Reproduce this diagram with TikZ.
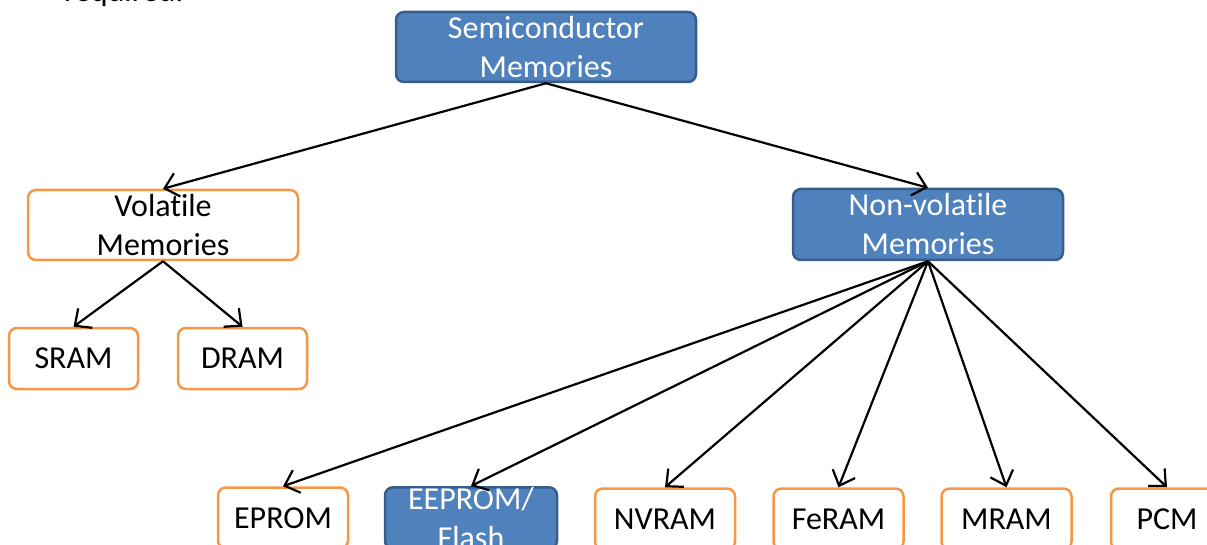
\documentclass[tikz,border=0pt]{standalone}
\usepackage{fontspec}
\setmainfont{Carlito}[Ligatures=NoCommon]
\usetikzlibrary{arrows.meta}

\definecolor{bluefill}{HTML}{4F81BD}
\definecolor{blueedge}{HTML}{385D8A}
\definecolor{orangeedge}{HTML}{F79646}

\tikzset{
  memtext/.style={font=\fontsize{32}{39}\selectfont, align=center, inner sep=0pt},
  bluebox/.style={memtext, draw=blueedge, fill=bluefill, text=white, line width=2.5pt, rounded corners=8pt},
  orangebox/.style={memtext, draw=orangeedge, fill=white, line width=2.5pt, rounded corners=8pt},
  link/.style={-{Straight Barb[length=13pt,width=24pt,line width=2.2pt]}, line width=2.2pt}
}

\begin{document}
\begin{tikzpicture}[x=1pt, y=-1pt]
\useasboundingbox (0,0) rectangle (1207,545);

\node[memtext, anchor=base west] (prev) at (64,2) {required.};

% top level
\node[bluebox, minimum width=300, minimum height=70] (semi) at (546,47) {Semiconductor\\Memories};

% second level
\node[orangebox, minimum width=270, minimum height=70] (vol) at (163,225) {Volatile\\Memories};
\node[bluebox, minimum width=270, minimum height=71] (nonvol) at (928,224.5) {Non-volatile\\Memories};

% volatile kinds
\node[orangebox, minimum width=129, minimum height=61] (sram) at (73.5,358.5) {SRAM};
\node[orangebox, minimum width=129, minimum height=61] (dram) at (242.5,358.5) {DRAM};

% non-volatile kinds
\node[orangebox, minimum width=130, minimum height=61] (eprom) at (283,518) {EPROM};
\node[bluebox, minimum width=172, minimum height=61] (eeprom) at (471,518) {EEPROM/\\Flash};
\node[orangebox, minimum width=140, minimum height=61] (nvram) at (665,519) {NVRAM};
\node[orangebox, minimum width=130, minimum height=61] (feram) at (838.5,519) {FeRAM};
\node[orangebox, minimum width=130, minimum height=61] (mram) at (1006.5,519) {MRAM};
\node[orangebox, minimum width=112, minimum height=61] (pcm) at (1167,519) {PCM};

\draw[link] (semi.south) -- (vol.north);
\draw[link] (semi.south) -- (nonvol.north);
\draw[link] (vol.south) -- (sram.north);
\draw[link] (vol.south) -- (dram.north);
\foreach \kind in {eprom,eeprom,nvram,feram,mram,pcm}
  \draw[link] (nonvol.south) -- (\kind.north);
\end{tikzpicture}
\end{document}
